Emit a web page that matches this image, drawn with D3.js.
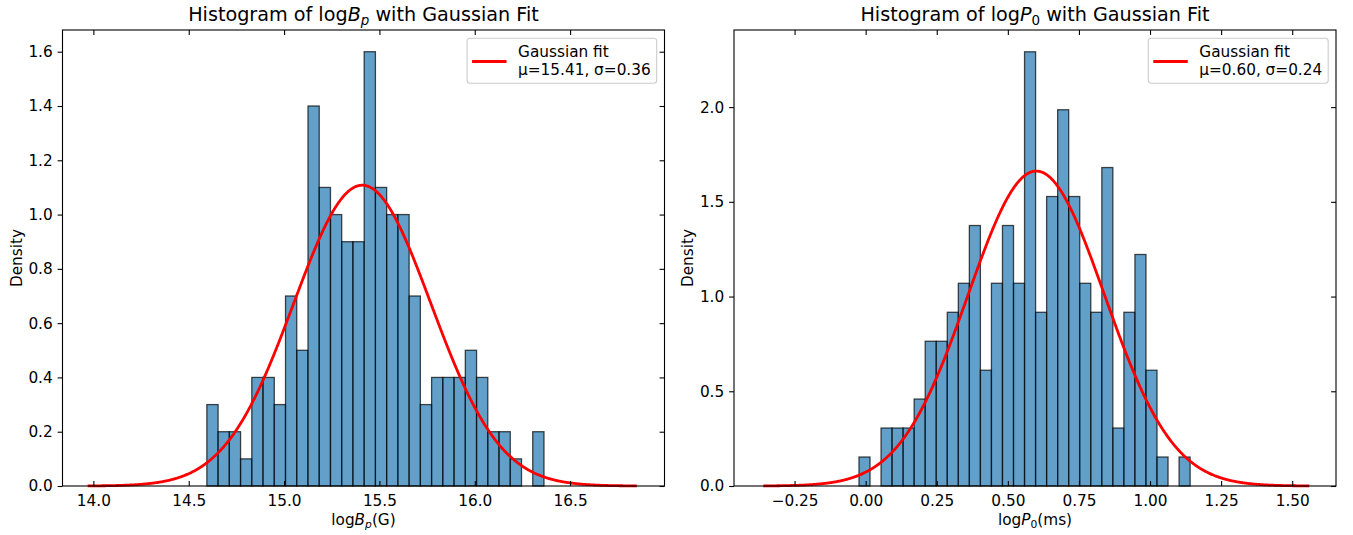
<!DOCTYPE html>
<html>
<head>
<meta charset="utf-8">
<script src="https://cdn.jsdelivr.net/npm/d3@7"></script>
<style>
  html, body { margin: 0; padding: 0; background: #ffffff; }
  svg { display: block; font-family: "DejaVu Sans", sans-serif; }
</style>
</head>
<body>
<svg id="chart" width="1353" height="535"></svg>
<script>
// Histogram of log B_p: density per bin over the bin range
const bpDensity = [0.3, 0.2, 0.2, 0.1, 0.4, 0.4, 0.3, 0.7, 0.5, 1.4,
                   1.1, 1.0, 0.9, 0.9, 1.6, 1.1, 1.0, 1.0, 0.7, 0.3,
                   0.4, 0.4, 0.4, 0.5, 0.4, 0.2, 0.2, 0.1, 0.0, 0.2];
const bpBinRange = [14.595, 16.363];
const bpFit = { mu: 15.41, sigma: 0.36 };
const bpXTicks = [14.0, 14.5, 15.0, 15.5, 16.0, 16.5];
const bpYTicks = [0.0, 0.2, 0.4, 0.6, 0.8, 1.0, 1.2, 1.4, 1.6];

// Histogram of log P_0: density per bin over the bin range
const p0Density = [0.153, 0.0, 0.306, 0.306, 0.306, 0.459, 0.764, 0.764, 0.917, 1.070,
                   1.375, 0.611, 1.070, 1.375, 1.070, 2.292, 0.917, 1.528, 1.986, 1.528,
                   1.070, 0.917, 1.681, 0.306, 0.917, 1.222, 0.611, 0.153, 0.0, 0.153];
const p0BinRange = [-0.0235, 1.141];
const p0Fit = { mu: 0.60, sigma: 0.24 };
const p0XTicks = [-0.25, 0.0, 0.25, 0.5, 0.75, 1.0, 1.25, 1.5];
const p0YTicks = [0.0, 0.5, 1.0, 1.5, 2.0];

const svg = d3.select("#chart");
const FS = 15.3;       // tick, legend and axis-label size
const TITLE_FS = 19.2; // panel title size

const gaussian = (x, mu, s) => Math.exp(-0.5 * ((x - mu) / s) ** 2) / (s * Math.sqrt(2 * Math.PI));

// Writes "log" + italic symbol + subscript into a text node
function mathLabel(sel, prefix, sym, sub, subItalic, suffix, size) {
  sel.append("tspan").text(prefix);
  sel.append("tspan").attr("font-style", "italic").text(sym);
  sel.append("tspan").attr("font-style", subItalic ? "italic" : "normal")
    .attr("font-size", size * 0.7).attr("dy", size * 0.22).text(sub);
  sel.append("tspan").attr("dy", -size * 0.22).text(suffix);
}

function panel(cfg) {
  const { left, right, top, bottom } = cfg.box;
  const x = d3.scaleLinear().domain(cfg.xDomain).range([left, right]);
  const y = d3.scaleLinear().domain(cfg.yDomain).range([bottom, top]);
  const g = svg.append("g");

  // bars
  const n = cfg.density.length;
  const bw = (cfg.binRange[1] - cfg.binRange[0]) / n;
  const bins = cfg.density.map((d, i) => ({ x0: cfg.binRange[0] + i * bw, x1: cfg.binRange[0] + (i + 1) * bw, d }));
  g.append("g").selectAll("rect").data(bins.filter(b => b.d > 0)).join("rect")
    .attr("x", b => x(b.x0)).attr("width", b => x(b.x1) - x(b.x0))
    .attr("y", b => y(b.d)).attr("height", b => y(0) - y(b.d))
    .attr("fill", "#1f77b4").attr("fill-opacity", 0.7)
    .attr("stroke", "#000").attr("stroke-opacity", 0.7).attr("stroke-width", 1.3);

  // fitted gaussian over mu ± 4 sigma
  const { mu, sigma } = cfg.fit;
  const xs = d3.range(0, 1001).map(i => mu - 4 * sigma + (8 * sigma) * i / 1000);
  g.append("path").datum(xs)
    .attr("d", d3.line().x(v => x(v)).y(v => y(gaussian(v, mu, sigma))))
    .attr("fill", "none").attr("stroke", "red").attr("stroke-width", 2.8);

  // axes: ticks outward on the left, inward elsewhere
  const fmtX = d3.format(cfg.xFmt), fmtY = d3.format(".1f");
  const axB = g.append("g").attr("transform", `translate(0,${bottom})`)
    .call(d3.axisBottom(x).tickValues(cfg.xTicks).tickFormat(fmtX).tickSizeInner(-4.9).tickSizeOuter(0).tickPadding(9.0));
  const axT = g.append("g").attr("transform", `translate(0,${top})`)
    .call(d3.axisTop(x).tickValues(cfg.xTicks).tickFormat("").tickSizeInner(-4.9).tickSizeOuter(0));
  const axL = g.append("g").attr("transform", `translate(${left},0)`)
    .call(d3.axisLeft(y).tickValues(cfg.yTicks).tickFormat(fmtY).tickSizeInner(4.9).tickSizeOuter(0).tickPadding(4.9));
  const axR = g.append("g").attr("transform", `translate(${right},0)`)
    .call(d3.axisRight(y).tickValues(cfg.yTicks).tickFormat("").tickSizeInner(-4.9).tickSizeOuter(0));
  [axB, axT, axL, axR].forEach(a => {
    a.select(".domain").remove();
    a.selectAll("line").attr("stroke", "#000").attr("stroke-width", 1.1);
    a.selectAll("text").attr("font-family", "DejaVu Sans").attr("font-size", FS).attr("fill", "#000");
  });
  axB.selectAll("text").attr("dy", "0.71em");

  // frame
  g.append("rect").attr("x", left).attr("y", top).attr("width", right - left).attr("height", bottom - top)
    .attr("fill", "none").attr("stroke", "#000").attr("stroke-width", 1.1);

  // titles and labels
  const cx = (left + right) / 2;
  mathLabel(g.append("text").attr("x", cx).attr("y", 20.5).attr("text-anchor", "middle").attr("font-size", TITLE_FS),
    "Histogram of log", cfg.sym, cfg.sub, cfg.subItalic, " with Gaussian Fit", TITLE_FS);
  mathLabel(g.append("text").attr("x", cx).attr("y", 525).attr("text-anchor", "middle").attr("font-size", FS),
    "log", cfg.sym, cfg.sub, cfg.subItalic, cfg.unit, FS);
  g.append("text").attr("transform", `translate(${cfg.yLabelX},${(top + bottom) / 2}) rotate(-90)`)
    .attr("text-anchor", "middle").attr("font-size", FS).text("Density");

  // legend
  const lg = g.append("g");
  const t1 = lg.append("text").attr("font-size", FS).text("Gaussian fit");
  const t2 = lg.append("text").attr("font-size", FS)
    .text(`μ=${cfg.fit.mu.toFixed(2)}, σ=${cfg.fit.sigma.toFixed(2)}`);
  const tw = Math.max(t1.node().getComputedTextLength(), t2.node().getComputedTextLength());
  const boxW = 51 + tw + 6, boxX = right - 7.8 - boxW, boxY = 38.3, boxH = 45;
  lg.insert("rect", ":first-child").attr("x", boxX).attr("y", boxY).attr("width", boxW).attr("height", boxH)
    .attr("rx", 3).attr("fill", "#fff").attr("fill-opacity", 0.8)
    .attr("stroke", "#cccccc").attr("stroke-width", 1.1);
  lg.append("line").attr("x1", boxX + 5).attr("x2", boxX + 39.5).attr("y1", 61.5).attr("y2", 61.5)
    .attr("stroke", "red").attr("stroke-width", 2.8);
  t1.attr("x", boxX + 51).attr("y", 56.5);
  t2.attr("x", boxX + 51).attr("y", 74.8);
}

panel({
  box: { left: 62.5, right: 664.5, top: 30, bottom: 486 },
  xDomain: [13.838, 16.995], yDomain: [0, 1.68],
  density: bpDensity, binRange: bpBinRange, fit: bpFit,
  xTicks: bpXTicks, yTicks: bpYTicks, xFmt: ".1f",
  sym: "B", sub: "p", subItalic: true, unit: "(G)", yLabelX: 22
});

panel({
  box: { left: 734, right: 1336, top: 30, bottom: 486 },
  xDomain: [-0.463, 1.654], yDomain: [0, 2.407],
  density: p0Density, binRange: p0BinRange, fit: p0Fit,
  xTicks: p0XTicks, yTicks: p0YTicks, xFmt: ".2f",
  sym: "P", sub: "0", subItalic: false, unit: "(ms)", yLabelX: 693
});
</script>
</body>
</html>
